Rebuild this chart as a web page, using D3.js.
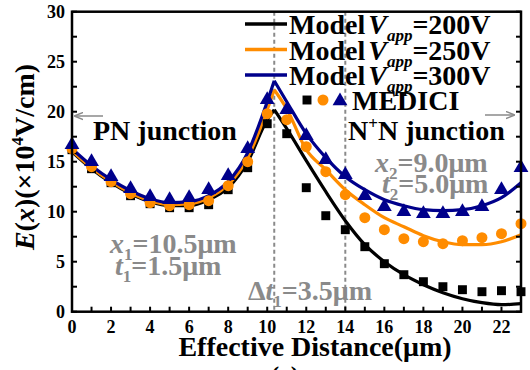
<!DOCTYPE html>
<html>
<head>
<meta charset="utf-8">
<script src="https://cdn.jsdelivr.net/npm/d3@7"></script>
</head>
<body style="margin:0">
<svg id="s" width="530" height="370"></svg>
<script>
// model curves (x grid shared, peak at 10.36)
var xModel = [0, 1, 2, 3, 4, 5, 6, 7, 8, 9, 10, 10.36, 11, 12, 13, 14, 15, 16, 17, 18, 19, 20, 21, 22, 23];
var model200 = [16.0, 14.3, 12.9, 11.8, 11.0, 10.6, 10.6, 11.2, 12.4, 15.0, 19.2, 20.2, 18.3, 15.1, 12.0, 9.1, 6.7, 5.0, 3.7, 2.7, 1.9, 1.3, 0.9, 0.7, 0.8];
var model250 = [16.1, 14.4, 13.0, 11.9, 11.1, 10.7, 10.8, 11.4, 12.7, 15.4, 20.2, 22.2, 20.3, 16.2, 14.2, 12.2, 10.7, 9.4, 8.5, 7.6, 7.0, 6.7, 6.7, 7.0, 7.7];
var model300 = [16.3, 14.6, 13.2, 12.1, 11.3, 10.9, 11.0, 11.6, 13.0, 15.9, 21.0, 23.1, 21.0, 17.8, 15.4, 13.5, 12.2, 11.2, 10.6, 10.2, 10.1, 10.2, 10.6, 11.4, 12.9];

// MEDICI simulation points
var xMedici = [0, 1, 2, 3, 4, 5, 6, 7, 8, 9, 10, 11, 12, 13, 14, 15, 16, 17, 18, 19, 20, 21, 22, 23];
var medici200 = [16.2, 14.3, 12.9, 11.6, 10.8, 10.4, 10.4, 10.7, 12.2, 14.4, 18.8, 17.8, 12.4, 9.6, 8.2, 6.5, 4.8, 3.7, 3.0, 2.5, 2.2, 2.0, 2.1, 2.0];
var medici250 = [16.3, 14.5, 13.0, 11.8, 10.9, 10.6, 10.7, 11.1, 12.6, 15.0, 19.8, 19.2, 16.5, 14.0, 11.7, 9.4, 8.2, 7.3, 7.0, 6.8, 7.1, 7.4, 7.8, 8.8];
var medici300 = [16.7, 15.0, 13.5, 12.3, 11.5, 11.2, 11.4, 12.2, 13.6, 16.3, 21.2, 20.2, 17.6, 15.2, 13.7, 11.6, 10.5, 10.0, 9.8, 9.8, 10.0, 10.5, 12.2, 14.4];

var xTickLabels = [0, 2, 4, 6, 8, 10, 12, 14, 16, 18, 20, 22];
var yTickLabels = [0, 5, 10, 15, 20, 25, 30];
var guideLines = [10.36, 14.0];

var black = "#000000", orange = "#FF8C00", blue = "#00008B", gray = "#8a8a8a";

var svg = d3.select("#s");
var x = d3.scaleLinear().domain([0, 23]).range([72, 521]);
var y = d3.scaleLinear().domain([0, 30]).range([311.7, 11.7]);

// serif bold text, set the same way that rendered serif in the font test
function txt(px, py, size) {
    return svg.append("text").attr("x", px).attr("y", py).attr("font-size", size)
        .attr("font-weight", "bold").style("font-family", "'Liberation Serif'");
}

// dashed guide lines
svg.selectAll(".guide").data(guideLines).enter().append("line")
    .attr("x1", d => x(d)).attr("x2", d => x(d))
    .attr("y1", y(30)).attr("y2", y(0))
    .attr("stroke", gray).attr("stroke-width", 2).attr("stroke-dasharray", "4,3");

// model curves, split at the peak so the cusp stays sharp
var peakIdx = xModel.indexOf(10.36);
var line = d3.line().x(d => x(d[0])).y(d => y(d[1])).curve(d3.curveMonotoneX);
function drawModel(vals, color) {
    var pts = xModel.map((v, i) => [v, vals[i]]);
    [pts.slice(0, peakIdx + 1), pts.slice(peakIdx)].forEach(function (seg) {
        svg.append("path").attr("d", line(seg)).attr("fill", "none")
            .attr("stroke", color).attr("stroke-width", 3.2);
    });
}
drawModel(model200, black);
drawModel(model250, orange);
drawModel(model300, blue);

// MEDICI markers
var sq = d3.symbol().type(d3.symbolSquare).size(80);
var ci = d3.symbol().type(d3.symbolCircle).size(95);
var tr = d3.symbol().type(d3.symbolTriangle).size(95);
function drawPoints(vals, sym, color) {
    svg.append("g").selectAll("path").data(vals).enter().append("path")
        .attr("d", sym)
        .attr("transform", (d, i) => "translate(" + x(xMedici[i]) + "," + y(d) + ")")
        .attr("fill", color);
}
drawPoints(medici200, sq, black);
drawPoints(medici250, ci, orange);
drawPoints(medici300, tr, blue);

// frame
svg.append("rect").attr("x", x(0)).attr("y", y(30))
    .attr("width", x(23) - x(0)).attr("height", y(0) - y(30))
    .attr("fill", "none").attr("stroke", "#000").attr("stroke-width", 2.5);

// tick marks from the scales (inward), labels drawn as plain texts below
var xTicks = d3.range(0, 24, 1), yTicks = d3.range(0, 30.1, 2.5);
svg.selectAll(".xt").data(xTicks).enter().append("line")
    .attr("x1", d => x(d)).attr("x2", d => x(d)).attr("y1", y(0)).attr("y2", y(0) - 5)
    .attr("stroke", "#000").attr("stroke-width", 2);
svg.selectAll(".yl").data(yTicks).enter().append("line")
    .attr("x1", x(0)).attr("x2", x(0) + 5).attr("y1", d => y(d)).attr("y2", d => y(d))
    .attr("stroke", "#000").attr("stroke-width", 2);
svg.selectAll(".yr").data(yTicks).enter().append("line")
    .attr("x1", x(23)).attr("x2", x(23) - 5).attr("y1", d => y(d)).attr("y2", d => y(d))
    .attr("stroke", "#000").attr("stroke-width", 2);
xTickLabels.forEach(function (d) {
    txt(x(d), y(0) + 21, 18).attr("text-anchor", "middle").text(d);
});
yTickLabels.forEach(function (d) {
    txt(x(0) - 7, y(d) + 6, 18).attr("text-anchor", "end").text(d);
});

// axis titles
txt(315, 356, 28).attr("text-anchor", "middle").text("Effective Distance(μm)");
txt(285, 384, 26).attr("text-anchor", "middle").text("(c)");
var yl = txt(0, 0, 28).attr("transform", "translate(34,157) rotate(-90)").attr("text-anchor", "middle");
yl.append("tspan").attr("font-style", "italic").text("E");
yl.append("tspan").text("(");
yl.append("tspan").attr("font-style", "italic").text("x");
yl.append("tspan").text(")(×10");
yl.append("tspan").attr("font-size", 17).attr("dy", -11).text("4");
yl.append("tspan").attr("dy", 11).text("V/cm)");

// legend
var legendRows = [["200V", black], ["250V", orange], ["300V", blue]];
legendRows.forEach(function (r, i) {
    var ly = 24 + i * 25.5;
    svg.append("line").attr("x1", 245).attr("x2", 287).attr("y1", ly).attr("y2", ly)
        .attr("stroke", r[1]).attr("stroke-width", 3.5);
    var t = txt(289, ly + 10, 28);
    t.append("tspan").text("Model");
    t.append("tspan").attr("font-style", "italic").attr("dx", 3).text("V");
    t.append("tspan").attr("font-style", "italic").attr("font-size", 17).attr("dy", 7).text("app");
    t.append("tspan").attr("dy", -7).text("=" + r[0]);
});
svg.append("path").attr("d", sq).attr("transform", "translate(307,100)").attr("fill", black);
svg.append("path").attr("d", ci).attr("transform", "translate(323,100)").attr("fill", orange);
svg.append("path").attr("d", tr).attr("transform", "translate(340,101)").attr("fill", blue);
txt(352, 110, 28).text("MEDICI");

// region labels
txt(93, 140, 28).text("PN junction");
var nn = txt(348, 140, 28);
nn.append("tspan").text("N");
nn.append("tspan").attr("font-size", 17).attr("dy", -11).text("+");
nn.append("tspan").attr("dy", 11).text("N junction");

// arrows
svg.append("defs").append("marker").attr("id", "ah").attr("viewBox", "0 0 10 10")
    .attr("refX", 9).attr("refY", 5).attr("markerWidth", 6).attr("markerHeight", 6)
    .attr("orient", "auto").append("path").attr("d", "M0,1 L10,5 L0,9").attr("fill", "none")
    .attr("stroke", gray).attr("stroke-width", 1.5);
svg.append("line").attr("x1", 103).attr("x2", 75).attr("y1", 116).attr("y2", 116)
    .attr("stroke", gray).attr("stroke-width", 1.5).attr("marker-end", "url(#ah)");
svg.append("line").attr("x1", 485).attr("x2", 514).attr("y1", 115).attr("y2", 115)
    .attr("stroke", gray).attr("stroke-width", 1.5).attr("marker-end", "url(#ah)");

// gray parameter notes
function note(px, py, sym, sub, rest) {
    var t = txt(px, py, 28).attr("fill", gray);
    sym.split("").forEach(function (c) {
        if (c === "Δ") t.append("tspan").text(c);
        else t.append("tspan").attr("font-style", "italic").text(c);
    });
    t.append("tspan").attr("font-size", 17).attr("dy", 7).text(sub);
    t.append("tspan").attr("dy", -7).text(rest);
}
note(110, 253, "x", "1", "=10.5μm");
note(115, 275, "t", "1", "=1.5μm");
note(375, 172, "x", "2", "=9.0μm");
note(382, 193, "t", "2", "=5.0μm");
note(248, 300, "Δt", "1", "=3.5μm");
</script>
</body>
</html>
